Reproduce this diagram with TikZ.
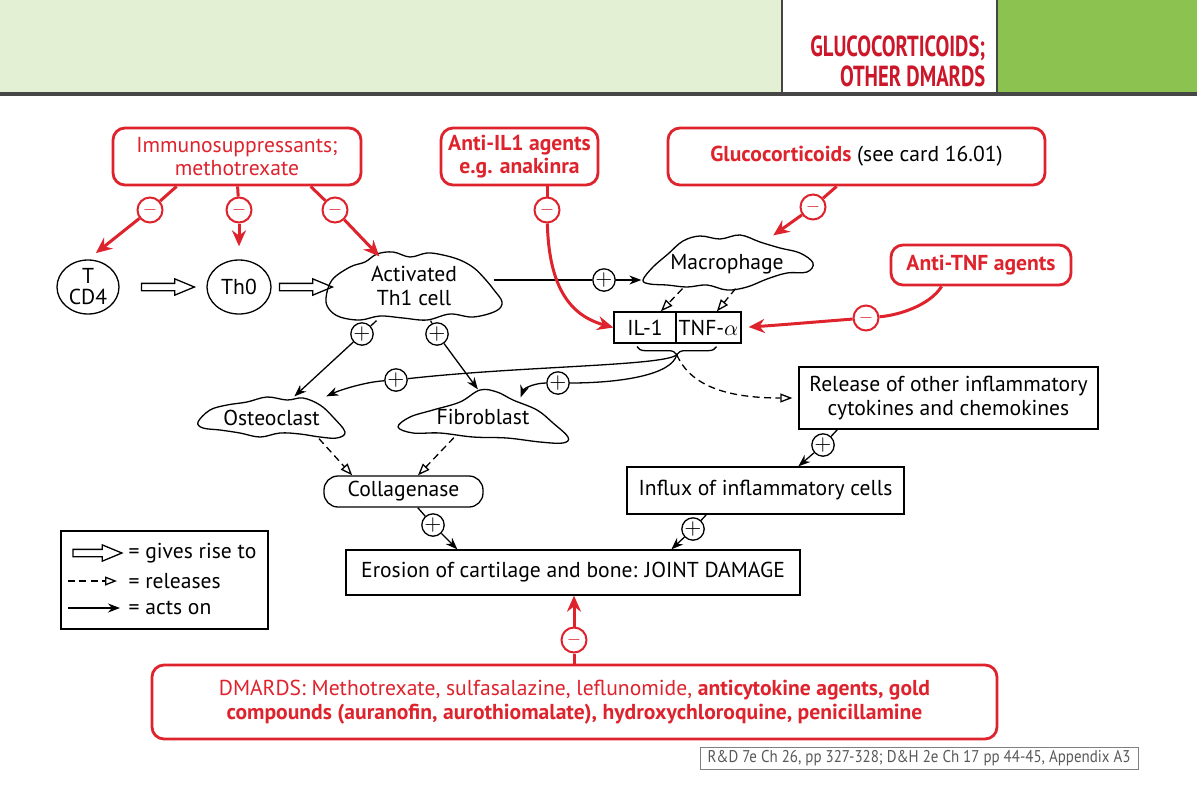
\documentclass[tikz,border=0pt]{standalone}
\usepackage{fontspec}
\setmainfont{PT Sans}
\usetikzlibrary{arrows.meta,calc,shapes.geometric,shapes.arrows,decorations.pathreplacing}
\definecolor{drugred}{RGB}{222,35,45}
\definecolor{titlered}{RGB}{204,22,42}
\definecolor{palegreen}{RGB}{227,240,211}
\definecolor{cardgreen}{RGB}{139,194,80}
\definecolor{rulegrey}{RGB}{70,70,70}
\begin{document}
\begin{tikzpicture}
		[x=0.5pt, y=-0.5pt,
		font=\fontsize{10.8}{11.75}\selectfont,
		line width=0.65pt,
		drug/.style={draw=drugred, line width=1.4pt, rounded corners=6pt,
			text=drugred, align=center, inner sep=0pt},
		box/.style={draw, align=center, inner sep=0pt},
		cellnode/.style={inner sep=0pt, align=center},
		cell/.style={draw, line width=0.65pt},
		tcell/.style={ellipse, draw, inner sep=0pt, align=center,
			font=\fontsize{10.8}{10.5}\selectfont},
		gives/.style={single arrow, draw, fill=white, inner sep=1.5pt,
			single arrow head extend=2.25pt, single arrow tip angle=45,
			minimum height=26.5pt},
		acts/.style={-{Stealth[length=6pt,width=4.5pt]}},
		releases/.style={dash pattern=on 3.5pt off 2.2pt,
			-{Triangle[open,length=6pt,width=4.5pt]}},
		redline/.style={draw=drugred, line width=1.5pt},
		blocks/.style={redline, -{Stealth[length=8pt,width=7pt]}},
		minus/.style={circle, draw=drugred, fill=white, line width=1pt,
			inner sep=0pt, minimum size=12.5pt, text=drugred,
			font=\fontsize{9.5}{9.5}\selectfont},
		plus/.style={circle, draw, fill=white, inner sep=0pt,
			minimum size=10pt, font=\fontsize{11}{11}\selectfont}]
		\fill[white] (0,0) rectangle (1197,804);
		\useasboundingbox (0,0) rectangle (1197,804);
		\fill[palegreen] (0,0) rectangle (782,93);
		\fill[cardgreen] (997,0) rectangle (1197,93);
		\draw[rulegrey, line width=1pt] (782,0) -- (782,93) (997,0) -- (997,93);
		\draw[rulegrey, line width=1.6pt] (0,94) -- (1197,94);
		\node[anchor=east, align=right, text=titlered, inner sep=0pt,
			font=\bfseries\fontsize{14.5}{15}\selectfont] (title) at (986,61)
			{\scalebox{0.71}[1]{GLUCOCORTICOIDS;}\\\scalebox{0.71}[1]{OTHER DMARDS}};
		
		\node[drug, minimum width=124pt, minimum height=28.5pt] (imm) at (237,156.5)
			{Immunosuppressants;\\methotrexate};
		\node[drug, minimum width=78.5pt, minimum height=28.5pt] (ail1) at (519.5,156.5)
			{\textbf{Anti-IL1 agents}\\\textbf{e.g. anakinra}};
		\node[drug, minimum width=188.5pt, minimum height=28.5pt] (glu) at (856.5,156.5)
			{\textbf{Glucocorticoids} \textcolor{black}{(see card 16.01)}};
		\node[drug, minimum width=90pt, minimum height=20pt] (atnf) at (981,265)
			{\textbf{Anti-TNF agents}};
		\node[drug, minimum width=422.5pt, minimum height=37pt] (dmard) at (574.5,702)
			{DMARDS: Methotrexate, sulfasalazine, leflunomide, \textbf{anticytokine agents, gold}\\
			\textbf{compounds (auranofin, aurothiomalate), hydroxychloroquine, penicillamine}};
		
		\node[tcell, minimum width=31pt, minimum height=27pt] (tcd4) at (88,287) {T\\CD4};
		\node[gives] (g1) at (163.5,287) {};
		\node[tcell, minimum width=32pt, minimum height=27pt] (th0) at (239,287) {Th0};
		\node[gives] (g2) at (301.5,287) {};
		\node[cellnode, minimum width=88pt, minimum height=34pt] (th1) at (414,286)
			{Activated\\Th1 cell};
		\draw[cell] plot[smooth cycle, tension=0.6] coordinates {(326,298) (332,280)
			(350,267) (365,262) (377,254) (393,252) (410,257) (427,253) (443,255)
			(460,260) (474,268) (485,279) (494,290) (502,302) (496,311) (473,317)
			(450,314) (427,320) (403,318) (380,316) (360,320) (340,317) (329,309)};
		\node[cellnode, minimum width=85pt, minimum height=28pt] (mac) at (727,264) {Macrophage};
		\draw[cell] plot[smooth cycle, tension=0.6] coordinates {(643,280) (653,267)
			(668,254) (683,241) (700,236) (720,239) (740,235) (760,242) (780,248)
			(800,253) (813,263) (807,272) (787,273) (767,279) (747,287) (727,290)
			(707,285) (687,287) (667,285) (650,284)};
		\node[cellnode, minimum width=73.5pt, minimum height=20.5pt] (ost) at (271.5,417.5) {Osteoclast};
		\draw[cell] plot[smooth cycle, tension=0.6] coordinates {(198,422) (210,410)
			(227,405) (247,402) (267,397) (287,400) (303,398) (320,405) (333,417)
			(345,432) (337,438) (320,437) (300,434) (280,433) (260,437) (240,433)
			(220,430) (203,428)};
		\node[cellnode, minimum width=85pt, minimum height=26.5pt] (fib) at (483,416.5) {Fibroblast};
		\draw[cell] plot[smooth cycle, tension=0.6] coordinates {(398,427) (410,417)
			(433,410) (460,402) (480,390) (497,392) (513,400) (537,410) (553,423)
			(568,437) (563,443) (540,442) (507,438) (473,437) (440,433) (413,433)};
		
		\node[box, minimum width=31pt, minimum height=15.5pt] (il1) at (645,327.5) {IL-1};
		\node[box, minimum width=32.5pt, minimum height=15.5pt] (tnf) at (708.5,327.5) {TNF-$\alpha$};
		\node[box, rounded corners=7pt, minimum width=79.5pt, minimum height=15.5pt] (coll)
			at (403.5,491.5) {Collagenase};
		\node[box, minimum width=149.5pt, minimum height=31pt] (rel) at (948.5,398)
			{Release of other inflammatory\\cytokines and chemokines};
		\node[box, minimum width=138.5pt, minimum height=23.5pt] (inf) at (765.5,490.5)
			{Influx of inflammatory cells};
		\node[box, minimum width=227pt, minimum height=22.5pt] (ero) at (573,572.5)
			{Erosion of cartilage and bone: JOINT DAMAGE};
		
		\node[minus] (m1) at (150,210) {$-$};
		\node[minus] (m2) at (239,210) {$-$};
		\node[minus] (m3) at (335,210) {$-$};
		\node[minus] (m4) at (547,210) {$-$};
		\node[minus] (m5) at (813,207) {$-$};
		\node[minus] (m6) at (866,318) {$-$};
		\node[minus] (m7) at (574,640) {$-$};
		\node[plus] (pm) at (604,280) {$+$};
		\node[plus] (pTa) at (362,334) {$+$};
		\node[plus] (pTb) at (437,334) {$+$};
		\node[plus] (pos) at (396,380) {$+$};
		\node[plus] (pfi) at (558,383) {$+$};
		\node[plus] (pc) at (433,525) {$+$};
		\node[plus] (pr) at (823,445) {$+$};
		\node[plus] (pi) at (693,529) {$+$};
		
		\draw ($(th1.east)+(-9,-6)$) -- (pm);
		\draw[acts] (pm) -- (pm -| mac.west);
		\draw[redline] ($(imm.south west)+(65,0)$) -- (m1);
		\draw[blocks, shorten >=5pt] (m1) -- (tcd4.north);
		\draw[redline] ($(imm.south west)+(126,0)$) -- (m2);
		\draw[blocks, shorten >=6.5pt] (m2) -- (th0.north);
		\draw[redline] ($(imm.south west)+(199,0)$) -- (m3);
		\draw[blocks] (m3) -- ($(th1.north west)+(54,5)$);
		\draw[redline] (m4 |- ail1.south) -- (m4);
		\draw[blocks] (m4) .. controls (549,290) and (572,316) .. (il1.west);
		\draw[redline] ($(glu.south west)+(170,0)$) -- (m5);
		\draw[blocks] (m5) -- ($(mac.north west)!0.77!(mac.north east)$);
		\draw[redline] ($(atnf.south west)+(52,0)$) .. controls (930,305) and (900,315) .. (m6);
		\draw[blocks, shorten >=3.5pt] (m6) .. controls (815,322) and (780,325) .. (tnf.east);
		\draw[redline] (m7 |- dmard.north) -- (m7);
		\draw[blocks] (m7) -- (m7 |- ero.south);
		
		\draw[releases] ($(mac.south west)!0.24!(mac.south east)+(0,-4)$)
			-- ($(il1.north)!0.5!(il1.north east)$);
		\draw[releases] ($(mac.south west)!0.55!(mac.south east)+(0,-4)$)
			-- ($(tnf.north)!0.25!(tnf.north east)$);
		\draw[decorate, decoration={brace, mirror, amplitude=4pt}]
			($(il1.south)+(-8,3)$) -- ($(tnf.south)+(8,3)$);
		\coordinate (brc) at ($(il1.south)!0.5!(tnf.south)+(0,11)$);
		\draw (brc) .. controls (666,366) and (520,366) .. (pos);
		\draw[acts] (pos) .. controls (365,382) and (340,390) .. ($(ost.north west)!0.87!(ost.north east)$);
		\draw (brc) .. controls (672,375) and (620,383) .. (pfi);
		\draw[acts] (pfi) .. controls (535,383) and (524,388) .. ($(fib.north west)!0.72!(fib.north east)+(0,8)$);
		\draw[releases, shorten >=3pt] (brc) .. controls (690,385) and (725,398) .. (rel.west);
		
		\draw (th1) -- (pTa);
		\draw[acts] (pTa) -- (ost);
		\draw (th1) -- (pTb);
		\draw[acts] (pTb) -- ($(fib.north west)!0.47!(fib.north east)$);
		\draw[releases] ($(ost.south west)!0.82!(ost.south east)$)
			-- ($(coll.north west)!0.18!(coll.north east)$);
		\draw[releases] ($(fib.south west)!0.33!(fib.south east)+(0,-6)$)
			-- ($(coll.north west)!0.59!(coll.north east)$);
		\draw (coll) -- (pc);
		\draw[acts] (pc) -- ($(ero.north west)+(112,0)$);
		\draw ($(rel.south west)+(39,0)$) -- (pr);
		\draw[acts] (pr) -- ($(inf.north west)+(172,0)$);
		\draw ($(inf.south west)+(80,0)$) -- (pi);
		\draw[acts] (pi) -- ($(ero.north west)+(326,0)$);
		
		\node[box, minimum width=103.5pt, minimum height=49pt] (legend) at (164.5,580) {};
		\node[gives, minimum height=24.5pt] (lg) at (93,553) {};
		\node[anchor=west, inner sep=1pt] (lgt) at (126,553) {= gives rise to};
		\coordinate (lr0) at (68,581);
		\coordinate (lr1) at (117,581);
		\draw[releases] (lr0) -- (lr1);
		\node[anchor=west, inner sep=1pt] (lrt) at (126,581) {= releases};
		\coordinate (la0) at (68,608);
		\coordinate (la1) at (120,608);
		\draw[acts] (la0) -- (la1);
		\node[anchor=west, inner sep=1pt] (lat) at (126,608) {= acts on};
		
		\node[draw=gray, line width=0.5pt, text=black!65, minimum width=219pt,
			minimum height=11pt, inner sep=0pt, font=\fontsize{8.5}{9}\selectfont] (ref)
			at (919,758) {\scalebox{0.88}[1]{R\&D 7e Ch 26, pp 327-328; D\&H 2e Ch 17 pp 44-45, Appendix A3}};
	\end{tikzpicture}
\end{document}
